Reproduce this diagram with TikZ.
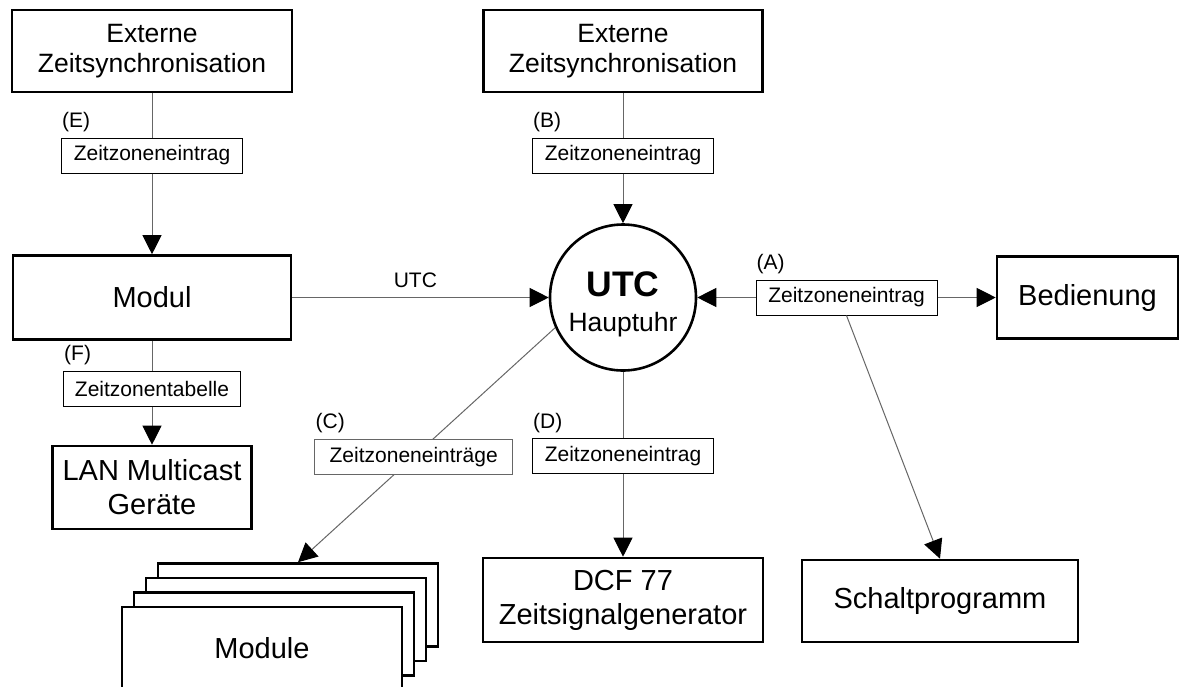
\documentclass[tikz,border=0pt]{standalone}
\usepackage{fontspec}
\setmainfont{Liberation Sans}
\usetikzlibrary{arrows.meta}

\begin{document}
\begin{tikzpicture}[x=1pt,y=-1pt,
	unit/.style={draw,line width=2.6pt,fill=white,inner sep=0pt,align=center,
		font=\fontsize{29}{34}\selectfont,minimum height=82pt},
	source/.style={unit,font=\fontsize{26.5}{30}\selectfont},
	tag/.style={draw,line width=1pt,fill=white,inner sep=0pt,
		font=\fontsize{21}{25}\selectfont,minimum height=35pt,minimum width=181pt},
	lettered/.style={label={[anchor=south west,inner sep=0pt,xshift=1pt,yshift=5pt,
		font=\fontsize{21}{25}\selectfont]north west:#1}},
	hub/.style={circle,draw,line width=2.6pt,fill=white,minimum size=146pt,inner sep=0pt,
		align=center,font=\fontsize{26.5}{35}\selectfont},
	link/.style={draw=black!60,line width=1pt},
	flow/.style={link,-{Triangle[length=19pt,width=19pt,color=black]}}]

	\path[use as bounding box,clip] (0,0) rectangle (1188,686);

	% left column
	\node[source,minimum width=280pt] (ext1) at (152,51) {Externe\\Zeitsynchronisation};
	\node[tag,lettered=(E)] (tagE) at (152,155.5) {Zeitzoneneintrag};
	\node[unit,minimum width=278pt,minimum height=84pt] (modul) at (152,297.5) {Modul};
	\node[tag,lettered=(F),minimum width=177pt] (tagF) at (152,388.5) {Zeitzonentabelle};
	\node[unit,minimum width=199pt,minimum height=83pt] (lan) at (152,487.5) {LAN Multicast\\Geräte};

	% middle column
	\node[source,minimum width=279pt] (ext2) at (623,51) {Externe\\Zeitsynchronisation};
	\node[tag,lettered=(B)] (tagB) at (623,155.5) {Zeitzoneneintrag};
	\node[hub] (utc) at (623,297.5) {\rule{0pt}{38pt}{\fontsize{35.5}{35}\selectfont\bfseries UTC}\\Hauptuhr};
	\node[tag,lettered=(D)] (tagD) at (623,456) {Zeitzoneneintrag};
	\node[unit,minimum width=280pt,minimum height=84pt] (dcf) at (623,600) {DCF 77\\Zeitsignalgenerator};

	% right side
	\node[tag,lettered=(A)] (tagA) at (846.5,297.5) {Zeitzoneneintrag};
	\node[unit,minimum width=181pt] (bed) at (1087.5,297.5) {Bedienung};
	\node[unit,minimum width=276pt] (schalt) at (940,601) {Schaltprogramm};

	% stack of modules
	\foreach \i in {3,2,1}
		\node[unit,minimum width=280pt,minimum height=83pt] (mod\i) at (262+12*\i,648.5-14.5*\i) {};
	\node[unit,minimum width=280pt,minimum height=83pt] (mod0) at (262,648.5) {Module};

	% connections
	\draw[link] (ext1.south) -- (tagE.north);
	\draw[flow] (tagE.south) -- (modul.north);
	\draw[link] (modul.south) -- (tagF.north);
	\draw[flow] (tagF.south) -- (lan.north);

	\draw[link] (ext2.south) -- (tagB.north);
	\draw[flow] (tagB.south) -- (utc.north);
	\draw[link] (utc.south) -- (tagD.north);
	\draw[flow] (tagD.south) -- (dcf.north);

	\draw[flow] (modul.east) -- node[pos=0.48,above=9pt,inner sep=0pt,
		font=\fontsize{21}{25}\selectfont] (lblutc) {UTC} (utc.west);
	\draw[flow] (utc.204) -- node[tag,lettered=(C),minimum width=198pt,pos=0.55] (tagC)
		{Zeitzoneneinträge} (mod3.north);

	\draw[flow] (tagA.west) -- (utc.east);
	\draw[flow] (tagA.east) -- (bed.west);
	\draw[flow] (tagA.south) -- (schalt.north);

\end{tikzpicture}
\end{document}
